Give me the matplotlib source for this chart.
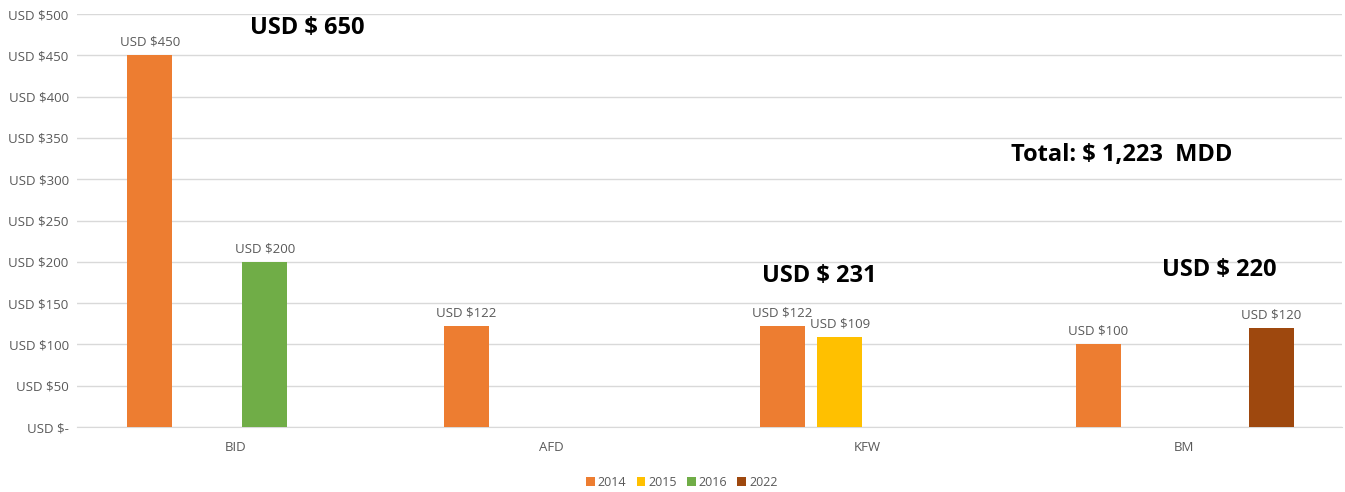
import numpy as np
import matplotlib.pyplot as plt

# Data (millions USD)
lenders = ["BID", "AFD", "KFW", "BM"]
years = ["2014", "2015", "2016", "2022"]
v2014 = [450, 122, 122, 100]
v2015 = [0, 0, 109, 0]
v2016 = [200, 0, 0, 0]
v2022 = [0, 0, 0, 120]
series = [v2014, v2015, v2016, v2022]
colors = ["#ED7D31", "#FFC000", "#70AD47", "#9E480E"]

group_totals = ["USD $ 650", None, "USD $ 231", "USD $ 220"]
total_text = "Total: $ 1,223  MDD"

plt.rcParams["font.family"] = ["Open Sans", "DejaVu Sans"]
grey = "#595959"

fig = plt.figure(figsize=(13.45, 4.92), dpi=100)
ax = fig.add_axes([0.0573, 0.132, 0.9405, 0.8394])

x = np.arange(len(lenders))
step = 0.182
width = 0.142
for i, (vals, col, yr) in enumerate(zip(series, colors, years)):
    pos = x + (i - 1.5) * step + 0.003
    ax.bar(pos, vals, width, color=col, label=yr, zorder=3)
    for p, v in zip(pos, vals):
        if v:
            ax.text(p, v + 8, f"USD ${v}", ha="center", va="bottom",
                    fontsize=9.5, color=grey)

# group total labels
big = dict(ha="center", va="center", fontsize=17, fontweight="bold", color="black")
ax.text(0.227, 483, group_totals[0], **big)
ax.text(1.846, 183, group_totals[2], **big)
ax.text(3.111, 190, group_totals[3], **big)
ax.text(2.804, 329, total_text, **big)

ax.set_xlim(-0.5, 3.5)
ax.set_ylim(0, 500)
yt = np.arange(0, 501, 50)
ax.set_yticks(yt)
ax.set_yticklabels(["USD $-" if t == 0 else f"USD ${t}" for t in yt])
ax.set_xticks(x)
ax.set_xticklabels(lenders)
ax.tick_params(axis="both", length=0, labelsize=9.5, colors=grey)
ax.tick_params(axis="x", pad=10)
ax.tick_params(axis="y", pad=6)
ax.grid(axis="y", color="#D9D9D9", linewidth=1, zorder=0)
for s in ["top", "right", "left"]:
    ax.spines[s].set_visible(False)
ax.spines["bottom"].set_color("#D9D9D9")

fig.legend(*ax.get_legend_handles_labels(), loc="center",
           bbox_to_anchor=(0.507, 0.02), ncol=4, frameon=False,
           fontsize=9, handlelength=0.7, handleheight=0.7, handletextpad=0.25,
           columnspacing=0.8, labelcolor=grey)

fig.savefig("out.png", dpi=100)
